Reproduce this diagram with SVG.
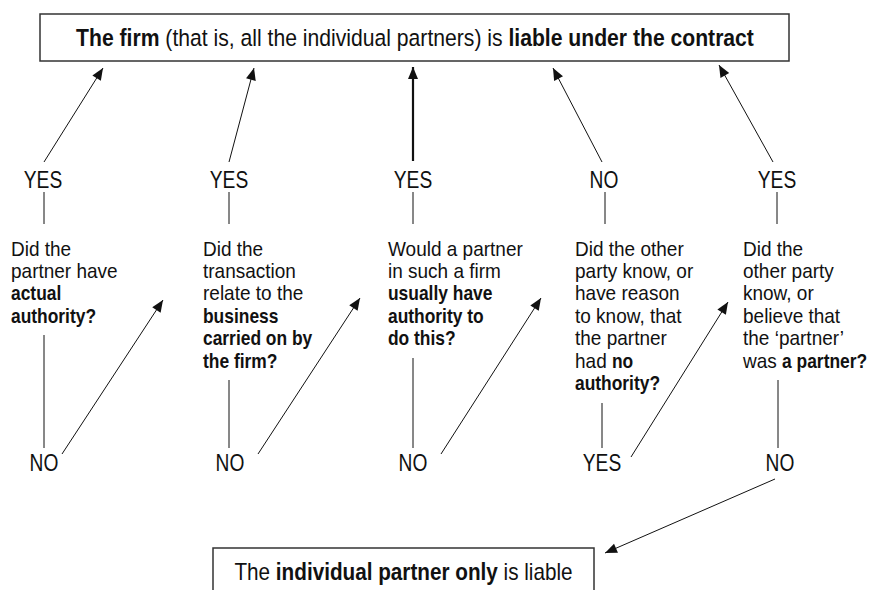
<svg xmlns="http://www.w3.org/2000/svg" width="870" height="590" viewBox="0 0 870 590">
<defs>
<style>
text{font-family:"Liberation Sans",Arial,sans-serif;fill:#111}
.box{fill:#fff;stroke:#333;stroke-width:1.5}
.title{font-size:23.5px;text-anchor:middle}
.lbl{font-size:24px;text-anchor:middle}
.q{font-size:20px}
.b{font-weight:bold}
.ln{stroke:#111;stroke-width:1;fill:none}
.arr{stroke:#111;stroke-width:1;fill:none;marker-end:url(#ah)}
.arr2{stroke:#111;stroke-width:2.2;fill:none;marker-end:url(#ah)}
</style>
<marker id="ah" markerUnits="userSpaceOnUse" markerWidth="13" markerHeight="11" refX="12" refY="5" orient="auto" overflow="visible">
<path d="M0,0 L12,5 L0,10 z" fill="#111"/>
</marker>
</defs>
<rect width="870" height="590" fill="#fff"/>

<g id="firm">
<rect class="box" x="40" y="14" width="749" height="47"/>
<text class="title" transform="translate(415,46) scale(0.9,1)" x="0" y="0"><tspan class="b">The firm</tspan> (that is, all the individual partners) is <tspan class="b">liable under the contract</tspan></text>
</g>

<g id="yes1"><text class="lbl" transform="translate(43,188) scale(0.8,1)">YES</text></g>
<g id="yes2"><text class="lbl" transform="translate(229,188) scale(0.8,1)">YES</text></g>
<g id="yes3"><text class="lbl" transform="translate(413,188) scale(0.8,1)">YES</text></g>
<g id="no4"><text class="lbl" transform="translate(604,188) scale(0.8,1)">NO</text></g>
<g id="yes5"><text class="lbl" transform="translate(777,188) scale(0.8,1)">YES</text></g>

<g id="q1" class="q" transform="translate(11,0) scale(0.95,1)">
<text class="q" x="0" y="255.7">Did the</text>
<text class="q" x="0" y="278.1">partner have</text>
<g transform="scale(0.916,1)">
<text class="q b" x="0" y="300.5">actual</text>
<text class="q b" x="0" y="322.9">authority?</text>
</g>
</g>

<g id="q2" transform="translate(203,0) scale(0.95,1)">
<text class="q" x="0" y="255.7">Did the</text>
<text class="q" x="0" y="278.1">transaction</text>
<text class="q" x="0" y="300.5">relate to the</text>
<g transform="scale(0.916,1)">
<text class="q b" x="0" y="322.9">business</text>
<text class="q b" x="0" y="345.3">carried on by</text>
<text class="q b" x="0" y="367.7">the firm?</text>
</g>
</g>

<g id="q3" transform="translate(388,0) scale(0.95,1)">
<text class="q" x="0" y="255.7">Would a partner</text>
<text class="q" x="0" y="278.1">in such a firm</text>
<g transform="scale(0.916,1)">
<text class="q b" x="0" y="300.5">usually have</text>
<text class="q b" x="0" y="322.9">authority to</text>
<text class="q b" x="0" y="345.3">do this?</text>
</g>
</g>

<g id="q4" transform="translate(575,0) scale(0.95,1)">
<text class="q" x="0" y="255.7">Did the other</text>
<text class="q" x="0" y="278.1">party know, or</text>
<text class="q" x="0" y="300.5">have reason</text>
<text class="q" x="0" y="322.9">to know, that</text>
<text class="q" x="0" y="345.3">the partner</text>
<text class="q" x="0" y="367.7">had </text>
<g transform="scale(0.916,1)">
<text class="q b" x="42.5" y="367.7">no</text>
<text class="q b" x="0" y="390.1">authority?</text>
</g>
</g>

<g id="q5" transform="translate(743,0) scale(0.95,1)">
<text class="q" x="0" y="255.7">Did the</text>
<text class="q" x="0" y="278.1">other party</text>
<text class="q" x="0" y="300.5">know, or</text>
<text class="q" x="0" y="322.9">believe that</text>
<text class="q" x="0" y="345.3">the ‘partner’</text>
<text class="q" x="0" y="367.7">was </text>
<g transform="scale(0.916,1)">
<text class="q b" x="44.9" y="367.7">a partner?</text>
</g>
</g>

<g id="no1"><text class="lbl" transform="translate(44,471) scale(0.8,1)">NO</text></g>
<g id="no2"><text class="lbl" transform="translate(230,471) scale(0.8,1)">NO</text></g>
<g id="no3"><text class="lbl" transform="translate(413,471) scale(0.8,1)">NO</text></g>
<g id="yes4"><text class="lbl" transform="translate(602,471) scale(0.8,1)">YES</text></g>
<g id="no5"><text class="lbl" transform="translate(780,471) scale(0.8,1)">NO</text></g>

<g id="individual">
<rect class="box" x="213" y="548" width="381" height="50"/>
<text class="title" transform="translate(403.5,580) scale(0.9,1)" style="font-size:23px">The <tspan class="b">individual partner only</tspan> is liable</text>
</g>

<g id="connectors">
<line class="arr" x1="44" y1="162" x2="103" y2="68"/>
<line class="arr" x1="229" y1="162" x2="254" y2="68"/>
<line class="arr2" x1="413" y1="161" x2="413" y2="67"/>
<line class="arr" x1="602" y1="162" x2="553" y2="68"/>
<line class="arr" x1="773" y1="162" x2="719" y2="65"/>
<line class="ln" x1="44" y1="192" x2="44" y2="224"/>
<line class="ln" x1="229" y1="192" x2="229" y2="224"/>
<line class="ln" x1="413" y1="192" x2="413" y2="224"/>
<line class="ln" x1="605" y1="192" x2="605" y2="224"/>
<line class="ln" x1="777" y1="192" x2="777" y2="224"/>
<line class="ln" x1="44" y1="335" x2="44" y2="448"/>
<line class="ln" x1="229" y1="380" x2="229" y2="448"/>
<line class="ln" x1="413" y1="358" x2="413" y2="448"/>
<line class="ln" x1="602" y1="403" x2="602" y2="448"/>
<line class="ln" x1="778" y1="380" x2="778" y2="448"/>
<line class="arr" x1="62" y1="454" x2="163" y2="300"/>
<line class="arr" x1="258" y1="454" x2="360" y2="298"/>
<line class="arr" x1="441" y1="454" x2="541" y2="298"/>
<line class="arr" x1="631" y1="457" x2="728" y2="302"/>
<line class="arr" x1="775" y1="479" x2="605" y2="553"/>
</g>
</svg>
